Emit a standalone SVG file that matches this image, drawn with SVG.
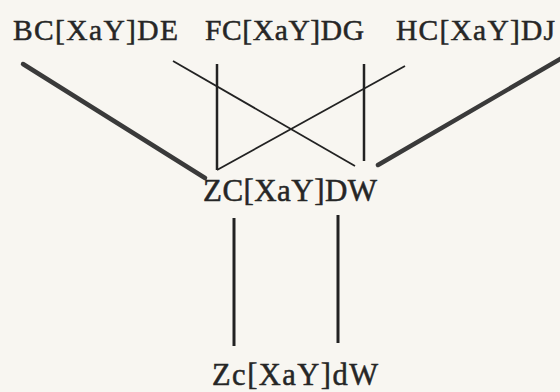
<svg xmlns="http://www.w3.org/2000/svg" width="560" height="392" viewBox="0 0 560 392">
<style>
.lbl{font-family:"Liberation Serif","Times New Roman",serif;fill:#262626;stroke:#262626;stroke-width:0.5;}
.thick{stroke:#3a3a3a;stroke-width:4.5;stroke-linecap:round;fill:none;}
.thin{stroke:#222;stroke-width:1.8;fill:none;}
.vert{stroke:#222;stroke-width:2.5;fill:none;}
</style>
<rect width="560" height="392" fill="#f8f6f1"/>
<g id="connectors">
<line class="thick" x1="23" y1="64" x2="205" y2="178"/>
<line class="thick" x1="378" y1="165" x2="562" y2="58"/>
<line class="vert" x1="217" y1="64" x2="217" y2="170"/>
<line class="vert" x1="364" y1="64" x2="364" y2="161"/>
<line class="thin" x1="173" y1="61" x2="355" y2="166"/>
<line class="thin" x1="217" y1="170" x2="405" y2="66"/>
<line class="vert" x1="234" y1="218" x2="234" y2="346" style="stroke-width:3"/>
<line class="vert" x1="338" y1="215" x2="338" y2="343" style="stroke-width:3"/>
</g>
<g id="node-bc"><text class="lbl" x="13" y="39.5" font-size="29.5" textLength="165" lengthAdjust="spacing">BC[XaY]DE</text></g>
<g id="node-fc"><text class="lbl" x="205" y="39.5" font-size="29.5" textLength="159" lengthAdjust="spacing">FC[XaY]DG</text></g>
<g id="node-hc"><text class="lbl" x="396" y="39.5" font-size="29.5" textLength="159" lengthAdjust="spacing">HC[XaY]DJ</text></g>
<g id="node-zc"><text class="lbl" x="203" y="200.5" font-size="31" textLength="174" lengthAdjust="spacing">ZC[XaY]DW</text></g>
<g id="node-zc-lower"><text class="lbl" x="212" y="384.5" font-size="30.5" textLength="166" lengthAdjust="spacing">Zc[XaY]dW</text></g>
</svg>
